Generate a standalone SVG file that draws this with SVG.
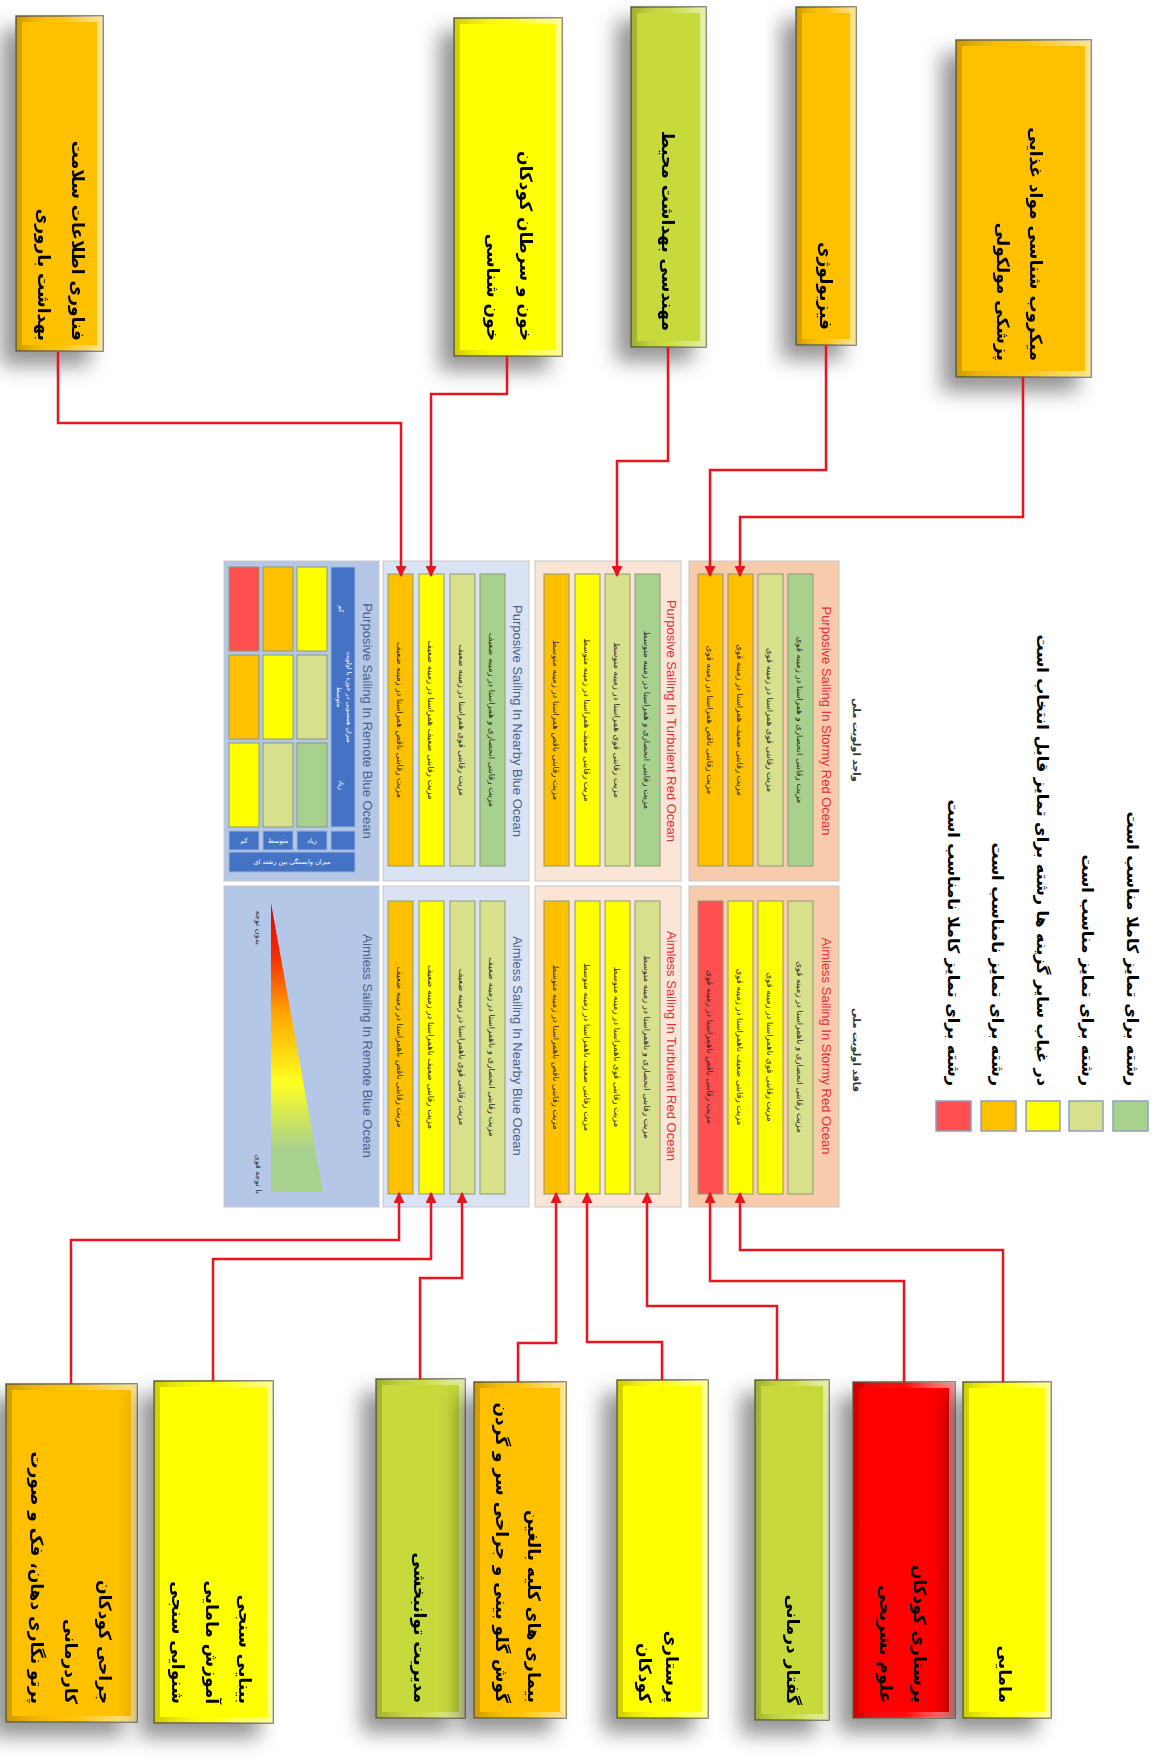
<svg xmlns="http://www.w3.org/2000/svg" width="1155" height="1764" viewBox="0 0 1155 1764">
<defs>
<filter id="shadow" x="-50%" y="-10%" width="200%" height="130%">
<feDropShadow dx="-14" dy="14" stdDeviation="10" flood-color="#000" flood-opacity="0.42"/>
</filter>
<linearGradient id="bevel" x1="0" y1="0" x2="1" y2="0">
<stop offset="0" stop-color="#000" stop-opacity="0.18"/>
<stop offset="0.5" stop-color="#fff" stop-opacity="0.05"/>
<stop offset="1" stop-color="#fff" stop-opacity="0.55"/>
</linearGradient>
<linearGradient id="tri" x1="0" y1="0" x2="0" y2="1">
<stop offset="0" stop-color="#E00000"/>
<stop offset="0.18" stop-color="#F52A00"/>
<stop offset="0.38" stop-color="#FFA500"/>
<stop offset="0.62" stop-color="#FFFF20"/>
<stop offset="0.85" stop-color="#A9D18E"/>
<stop offset="1" stop-color="#A9D18E"/>
</linearGradient>
<marker id="arr" viewBox="0 0 10 10" refX="9" refY="5" markerWidth="11" markerHeight="11" markerUnits="userSpaceOnUse" orient="auto">
<path d="M0,0 L10,5 L0,10 z" fill="#E8141E"/>
</marker>
<style>
.box{stroke:#66664a;stroke-width:1.5}
.bev{fill:none;stroke:url(#bevel);stroke-width:6}
.o{fill:#FFC000}.y{fill:#FFFF00}.g{fill:#C8D93A}.r{fill:#FF0000}
.bt{font-family:"DejaVu Sans",sans-serif;font-weight:bold;font-size:17px;fill:#000;text-anchor:end;dominant-baseline:central}
.lt{font-family:"DejaVu Sans",sans-serif;font-weight:bold;font-size:16px;fill:#000;text-anchor:end;dominant-baseline:central}
.conn{fill:none;stroke:#E8141E;stroke-width:2.5;marker-end:url(#arr)}
.bar{stroke:#8A9A7A;stroke-width:1}
.bO{fill:#FFC000}.bY{fill:#FFFF00}.bL{fill:#D9E08B}.bG{fill:#A9D18E}.bR{fill:#FF5050}
.xt{font-family:"DejaVu Sans",sans-serif;font-size:8.5px;fill:#2a2a2a;text-anchor:middle;dominant-baseline:central}
.pl{font-family:"DejaVu Sans",sans-serif;font-size:10px;font-weight:bold;fill:#333;text-anchor:middle;dominant-baseline:central}
.hr{font-family:"Liberation Sans",Arial,sans-serif;font-size:13px;fill:#E0303A;text-anchor:middle;dominant-baseline:central}
.hb{font-family:"Liberation Sans",Arial,sans-serif;font-size:13px;fill:#4A5D8F;text-anchor:middle;dominant-baseline:central}
.panel{stroke:#C8C8C8;stroke-width:1}
.tb{fill:#4472C4;stroke:#9DB3DC;stroke-width:1}
.tw{font-family:"DejaVu Sans",sans-serif;font-size:6.5px;fill:#fff;text-anchor:middle;dominant-baseline:central}
.sm{font-family:"DejaVu Sans",sans-serif;font-size:8px;fill:#333;text-anchor:end;dominant-baseline:central}
.sq{stroke:#8EA0C0;stroke-width:1.5}
</style>
</defs>
<rect width="1155" height="1764" fill="#fff"/>

<!-- top nodes -->
<g id="n-it" filter="url(#shadow)"><rect class="box o" x="16" y="16" width="87" height="335"/><rect class="bev" x="19" y="19" width="81" height="329"/>
<text class="bt" x="78" y="341" transform="rotate(90 78 341)">فناوری اطلاعات سلامت</text>
<text class="bt" x="44" y="341" transform="rotate(90 44 341)">بهداشت باروری</text></g>

<g id="n-blood" filter="url(#shadow)"><rect class="box y" x="454" y="18" width="108" height="338"/><rect class="bev" x="457" y="21" width="102" height="332"/>
<text class="bt" x="526" y="341" transform="rotate(90 526 341)">خون و سرطان کودکان</text>
<text class="bt" x="493" y="341" transform="rotate(90 493 341)">خون شناسی</text></g>

<g id="n-env" filter="url(#shadow)"><rect class="box g" x="631" y="7" width="75" height="340"/><rect class="bev" x="634" y="10" width="69" height="334"/>
<text class="bt" x="668" y="331" transform="rotate(90 668 331)">مهندسی بهداشت محیط</text></g>

<g id="n-phys" filter="url(#shadow)"><rect class="box o" x="796" y="7" width="60" height="338"/><rect class="bev" x="799" y="10" width="54" height="332"/>
<text class="bt" x="826" y="330" transform="rotate(90 826 330)">فیزیولوژی</text></g>

<g id="n-micro" filter="url(#shadow)"><rect class="box o" x="956" y="40" width="135" height="337"/><rect class="bev" x="959" y="43" width="129" height="331"/>
<text class="bt" x="1036" y="361" transform="rotate(90 1036 361)">میکروب شناسی مواد غذایی</text>
<text class="bt" x="1003" y="361" transform="rotate(90 1003 361)">پزشکی مولکولی</text></g>

<!-- bottom nodes -->
<g id="n-surg" filter="url(#shadow)"><rect class="box o" x="6" y="1384" width="131" height="338"/><rect class="bev" x="9" y="1387" width="125" height="332"/>
<text class="bt" x="105" y="1704" transform="rotate(90 105 1704)">جراحی کودکان</text>
<text class="bt" x="71" y="1704" transform="rotate(90 71 1704)">کاردرمانی</text>
<text class="bt" x="37" y="1704" transform="rotate(90 37 1704)">پرتو نگاری دهان، فک و صورت</text></g>

<g id="n-opt" filter="url(#shadow)"><rect class="box y" x="154" y="1381" width="119" height="342"/><rect class="bev" x="157" y="1384" width="113" height="336"/>
<text class="bt" x="245" y="1704" transform="rotate(90 245 1704)">بینایی سنجی</text>
<text class="bt" x="212" y="1704" transform="rotate(90 212 1704)">آموزش مامایی</text>
<text class="bt" x="178" y="1704" transform="rotate(90 178 1704)">شنوایی سنجی</text></g>

<g id="n-rehab" filter="url(#shadow)"><rect class="box g" x="376" y="1379" width="89" height="339"/><rect class="bev" x="379" y="1382" width="83" height="333"/>
<text class="bt" x="420" y="1703" transform="rotate(90 420 1703)">مدیریت توانبخشی</text></g>

<g id="n-kidney" filter="url(#shadow)"><rect class="box o" x="474" y="1382" width="92" height="336"/><rect class="bev" x="477" y="1385" width="86" height="330"/>
<text class="bt" x="534" y="1703" transform="rotate(90 534 1703)">بیماری های کلیه بالغین</text>
<text class="bt" x="502" y="1703" transform="rotate(90 502 1703)">گوش گلو بینی و جراحی سر و گردن</text></g>

<g id="n-pednurse" filter="url(#shadow)"><rect class="box y" x="617" y="1380" width="91" height="338"/><rect class="bev" x="620" y="1383" width="85" height="332"/>
<text class="bt" x="672" y="1703" transform="rotate(90 672 1703)">پرستاری</text>
<text class="bt" x="645" y="1703" transform="rotate(90 645 1703)">کودکان</text></g>

<g id="n-speech" filter="url(#shadow)"><rect class="box g" x="755" y="1380" width="74" height="340"/><rect class="bev" x="758" y="1383" width="68" height="334"/>
<text class="bt" x="793" y="1705" transform="rotate(90 793 1705)">گفتار درمانی</text></g>

<g id="n-anat" filter="url(#shadow)"><rect class="box r" x="853" y="1382" width="102" height="336"/><rect class="bev" x="856" y="1385" width="96" height="330"/>
<text class="bt" x="920" y="1703" transform="rotate(90 920 1703)">پرستاری کودکان</text>
<text class="bt" x="886" y="1703" transform="rotate(90 886 1703)">علوم تشریحی</text></g>

<g id="n-midwife" filter="url(#shadow)"><rect class="box y" x="963" y="1382" width="88" height="336"/><rect class="bev" x="966" y="1385" width="82" height="330"/>
<text class="bt" x="1005" y="1703" transform="rotate(90 1005 1703)">مامایی</text></g>

<!-- panels -->
<g id="remote">
<rect class="panel" x="224" y="561" width="155" height="320" fill="#B4C7E7"/>
<rect class="panel" x="224" y="886" width="155" height="321" fill="#B4C7E7"/>
<g class="bar">
<rect class="bR" x="229" y="567" width="30" height="84"/><rect class="bO" x="229" y="655" width="30" height="84"/><rect class="bY" x="229" y="743" width="30" height="84"/>
<rect class="bO" x="263" y="567" width="30" height="84"/><rect class="bY" x="263" y="655" width="30" height="84"/><rect class="bL" x="263" y="743" width="30" height="84"/>
<rect class="bY" x="297" y="567" width="30" height="84"/><rect class="bL" x="297" y="655" width="30" height="84"/><rect class="bG" x="297" y="743" width="30" height="84"/>
</g>
<rect class="tb" x="331" y="567" width="24" height="260"/>
<rect class="tb" x="229" y="831" width="30" height="19"/><rect class="tb" x="263" y="831" width="30" height="19"/><rect class="tb" x="297" y="831" width="30" height="19"/><rect class="tb" x="331" y="831" width="24" height="19"/>
<rect class="tb" x="229" y="852" width="126" height="20"/>
<text class="tw" x="341" y="609" transform="rotate(90 341 609)">کم</text>
<text class="tw" x="349" y="697" transform="rotate(90 349 697)">میزان همسویی در حوزه با اولویت</text>
<text class="tw" x="339" y="697" transform="rotate(90 339 697)">متوسط</text>
<text class="tw" x="341" y="785" transform="rotate(90 341 785)">زیاد</text>
<text class="tw" x="244" y="841">کم</text><text class="tw" x="278" y="841">متوسط</text><text class="tw" x="312" y="841">زیاد</text>
<text class="tw" x="292" y="862">میزان وابستگی بین رشته ای</text>
<text class="hb" x="367" y="721" transform="rotate(90 367 721)">Purposive Sailing In Remote Blue Ocean</text>
<polygon points="271,903 271,1192 323,1192" fill="url(#tri)"/>
<text class="sm" x="258" y="945" transform="rotate(90 258 945)">بدون توجه</text>
<text class="sm" x="258" y="1194" transform="rotate(90 258 1194)">با توجه قوی</text>
<text class="hb" x="367" y="1046" transform="rotate(90 367 1046)">Aimless Sailing In Remote Blue Ocean</text>
</g>

<g id="nearby">
<rect class="panel" x="383" y="561" width="146" height="320" fill="#DAE3F3"/>
<rect class="panel" x="383" y="886" width="146" height="321" fill="#DAE3F3"/>
<g class="bar">
<rect class="bO" x="388" y="574" width="25" height="292"/><rect class="bY" x="419" y="574" width="25" height="292"/><rect class="bL" x="450" y="574" width="25" height="292"/><rect class="bG" x="480" y="574" width="25" height="292"/>
<rect class="bO" x="388" y="901" width="25" height="293"/><rect class="bY" x="419" y="901" width="25" height="293"/><rect class="bL" x="450" y="901" width="25" height="293"/><rect class="bL" x="480" y="901" width="25" height="293"/>
</g>
<text class="xt" x="400" y="720" transform="rotate(90 400 720)">مزیت رقابتی ناقص همراستا در زمینه ضعیف</text>
<text class="xt" x="431" y="720" transform="rotate(90 431 720)">مزیت رقابتی ضعیف همراستا در زمینه ضعیف</text>
<text class="xt" x="462" y="720" transform="rotate(90 462 720)">مزیت رقابتی قوی همراستا در زمینه ضعیف</text>
<text class="xt" x="492" y="720" transform="rotate(90 492 720)">مزیت رقابتی انحصاری و همراستا در زمینه ضعیف</text>
<text class="xt" x="400" y="1047" transform="rotate(90 400 1047)">مزیت رقابتی ناقص ناهمراستا در زمینه ضعیف</text>
<text class="xt" x="431" y="1047" transform="rotate(90 431 1047)">مزیت رقابتی ضعیف ناهمراستا در زمینه ضعیف</text>
<text class="xt" x="462" y="1047" transform="rotate(90 462 1047)">مزیت رقابتی قوی ناهمراستا در زمینه ضعیف</text>
<text class="xt" x="492" y="1047" transform="rotate(90 492 1047)">مزیت رقابتی انحصاری و ناهمراستا در زمینه ضعیف</text>
<text class="hb" x="517" y="721" transform="rotate(90 517 721)">Purposive Sailing In Nearby Blue Ocean</text>
<text class="hb" x="517" y="1046" transform="rotate(90 517 1046)">Aimless Sailing In Nearby Blue Ocean</text>
</g>

<g id="turbulent">
<rect class="panel" x="535" y="561" width="146" height="320" fill="#FBE5D6"/>
<rect class="panel" x="535" y="886" width="146" height="321" fill="#FBE5D6"/>
<g class="bar">
<rect class="bO" x="544" y="574" width="25" height="292"/><rect class="bY" x="575" y="574" width="25" height="292"/><rect class="bL" x="605" y="574" width="25" height="292"/><rect class="bG" x="635" y="574" width="25" height="292"/>
<rect class="bO" x="544" y="901" width="25" height="293"/><rect class="bY" x="575" y="901" width="25" height="293"/><rect class="bY" x="605" y="901" width="25" height="293"/><rect class="bL" x="635" y="901" width="25" height="293"/>
</g>
<text class="xt" x="556" y="720" transform="rotate(90 556 720)">مزیت رقابتی ناقص همراستا در زمینه متوسط</text>
<text class="xt" x="587" y="720" transform="rotate(90 587 720)">مزیت رقابتی ضعیف همراستا در زمینه متوسط</text>
<text class="xt" x="617" y="720" transform="rotate(90 617 720)">مزیت رقابتی قوی همراستا در زمینه متوسط</text>
<text class="xt" x="647" y="720" transform="rotate(90 647 720)">مزیت رقابتی انحصاری و همراستا در زمینه متوسط</text>
<text class="xt" x="556" y="1047" transform="rotate(90 556 1047)">مزیت رقابتی ناقص ناهمراستا در زمینه متوسط</text>
<text class="xt" x="587" y="1047" transform="rotate(90 587 1047)">مزیت رقابتی ضعیف ناهمراستا در زمینه متوسط</text>
<text class="xt" x="617" y="1047" transform="rotate(90 617 1047)">مزیت رقابتی قوی ناهمراستا در زمینه متوسط</text>
<text class="xt" x="647" y="1047" transform="rotate(90 647 1047)">مزیت رقابتی انحصاری و ناهمراستا در زمینه متوسط</text>
<text class="hr" x="671" y="721" transform="rotate(90 671 721)">Purposive Sailing In Turbulent Red Ocean</text>
<text class="hr" x="671" y="1046" transform="rotate(90 671 1046)">Aimless Sailing In Turbulent Red Ocean</text>
</g>

<g id="stormy">
<rect class="panel" x="689" y="561" width="150" height="320" fill="#F8CBAD"/>
<rect class="panel" x="689" y="886" width="150" height="321" fill="#F8CBAD"/>
<g class="bar">
<rect class="bO" x="698" y="574" width="25" height="292"/><rect class="bO" x="728" y="574" width="25" height="292"/><rect class="bL" x="758" y="574" width="25" height="292"/><rect class="bG" x="788" y="574" width="25" height="292"/>
<rect class="bR" x="698" y="901" width="25" height="293"/><rect class="bY" x="728" y="901" width="25" height="293"/><rect class="bY" x="758" y="901" width="25" height="293"/><rect class="bL" x="788" y="901" width="25" height="293"/>
</g>
<text class="xt" x="710" y="720" transform="rotate(90 710 720)">مزیت رقابتی ناقص همراستا در زمینه قوی</text>
<text class="xt" x="740" y="720" transform="rotate(90 740 720)">مزیت رقابتی ضعیف همراستا در زمینه قوی</text>
<text class="xt" x="770" y="720" transform="rotate(90 770 720)">مزیت رقابتی قوی همراستا در زمینه قوی</text>
<text class="xt" x="800" y="720" transform="rotate(90 800 720)">مزیت رقابتی انحصاری و همراستا در زمینه قوی</text>
<text class="xt" x="710" y="1047" transform="rotate(90 710 1047)">مزیت رقابتی ناقص ناهمراستا در زمینه قوی</text>
<text class="xt" x="740" y="1047" transform="rotate(90 740 1047)">مزیت رقابتی ضعیف ناهمراستا در زمینه قوی</text>
<text class="xt" x="770" y="1047" transform="rotate(90 770 1047)">مزیت رقابتی قوی ناهمراستا در زمینه قوی</text>
<text class="xt" x="800" y="1047" transform="rotate(90 800 1047)">مزیت رقابتی انحصاری و ناهمراستا در زمینه قوی</text>
<text class="hr" x="826" y="721" transform="rotate(90 826 721)">Purposive Sailing In Stormy Red Ocean</text>
<text class="hr" x="826" y="1046" transform="rotate(90 826 1046)">Aimless Sailing In Stormy Red Ocean</text>
</g>

<g id="priority-labels">
<text class="pl" x="856" y="740" transform="rotate(90 856 740)">واجد اولویت ملی</text>
<text class="pl" x="856" y="1050" transform="rotate(90 856 1050)">فاقد اولویت ملی</text>
</g>

<!-- legend -->
<g id="legend">
<rect class="sq bR" x="936" y="1101" width="35" height="30"/>
<rect class="sq bO" x="981" y="1101" width="35" height="30"/>
<rect class="sq bY" x="1026" y="1101" width="34" height="30"/>
<rect class="sq bL" x="1069" y="1101" width="34" height="30"/>
<rect class="sq bG" x="1113" y="1101" width="35" height="30"/>
<text class="lt" x="1132" y="1086" transform="rotate(90 1132 1086)">رشته برای تمایز کاملا مناسب است</text>
<text class="lt" x="1087" y="1086" transform="rotate(90 1087 1086)">رشته برای تمایز مناسب است</text>
<text class="lt" x="1042" y="1086" transform="rotate(90 1042 1086)">در غیاب سایر گزینه ها رشته برای تمایز قابل انتخاب است</text>
<text class="lt" x="997" y="1086" transform="rotate(90 997 1086)">رشته برای تمایز نامناسب است</text>
<text class="lt" x="953" y="1086" transform="rotate(90 953 1086)">رشته برای تمایز کاملا نامناسب است</text>
</g>

<g id="connectors">
<path class="conn" d="M58,352 V423 H401 V576"/>
<path class="conn" d="M507,356 V394 H431 V576"/>
<path class="conn" d="M668,347 V461 H617 V576"/>
<path class="conn" d="M826,345 V470 H710 V576"/>
<path class="conn" d="M1023,377 V517 H740 V576"/>
<path class="conn" d="M71,1384 V1240 H399 V1193"/>
<path class="conn" d="M213,1381 V1259 H431 V1193"/>
<path class="conn" d="M420,1379 V1278 H462 V1193"/>
<path class="conn" d="M518,1382 V1343 H556 V1193"/>
<path class="conn" d="M662,1380 V1342 H587 V1193"/>
<path class="conn" d="M777,1380 V1306 H647 V1193"/>
<path class="conn" d="M904,1382 V1281 H710 V1193"/>
<path class="conn" d="M1003,1382 V1250 H740 V1193"/>
</g>
</svg>
